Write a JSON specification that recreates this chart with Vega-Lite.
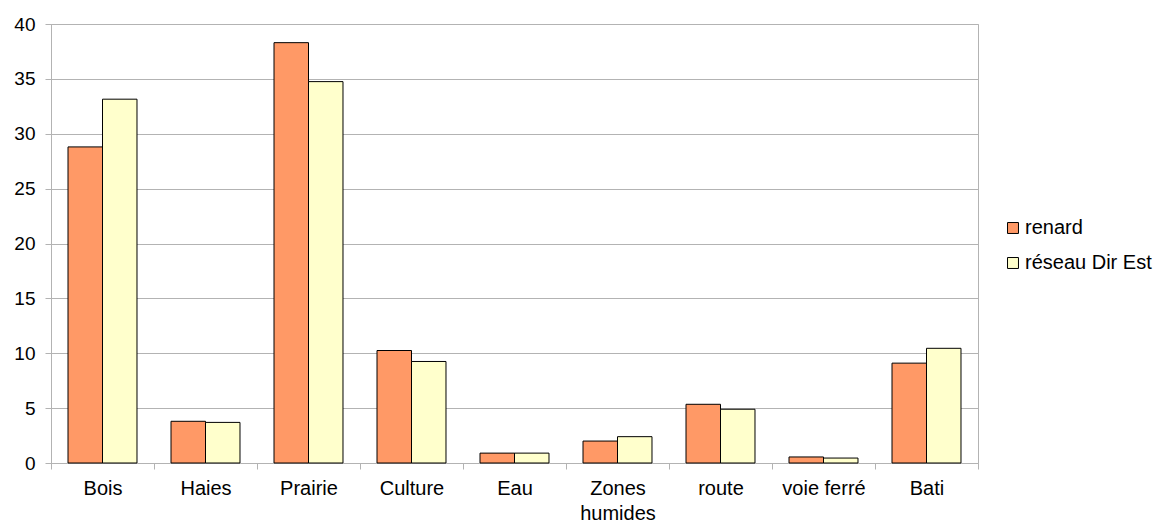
{
  "$schema": "https://vega.github.io/schema/vega-lite/v6.json",
  "width": 927,
  "height": 439,
  "autosize": "none",
  "padding": {"left": 51, "top": 24, "right": 185, "bottom": 66},
  "background": "white",
  "config": {
    "font": "Liberation Sans",
    "view": {"stroke": "#b3b3b3"}
  },
  "data": {
    "values": [
      {"cat": "Bois", "serie": "renard", "v": 28.8},
      {"cat": "Bois", "serie": "réseau Dir Est", "v": 33.15},
      {"cat": "Haies", "serie": "renard", "v": 3.8},
      {"cat": "Haies", "serie": "réseau Dir Est", "v": 3.7},
      {"cat": "Prairie", "serie": "renard", "v": 38.3},
      {"cat": "Prairie", "serie": "réseau Dir Est", "v": 34.75},
      {"cat": "Culture", "serie": "renard", "v": 10.25},
      {"cat": "Culture", "serie": "réseau Dir Est", "v": 9.25},
      {"cat": "Eau", "serie": "renard", "v": 0.9},
      {"cat": "Eau", "serie": "réseau Dir Est", "v": 0.9},
      {"cat": "Zones humides", "serie": "renard", "v": 2.0},
      {"cat": "Zones humides", "serie": "réseau Dir Est", "v": 2.4},
      {"cat": "route", "serie": "renard", "v": 5.35},
      {"cat": "route", "serie": "réseau Dir Est", "v": 4.9},
      {"cat": "voie ferré", "serie": "renard", "v": 0.55},
      {"cat": "voie ferré", "serie": "réseau Dir Est", "v": 0.45},
      {"cat": "Bati", "serie": "renard", "v": 9.1},
      {"cat": "Bati", "serie": "réseau Dir Est", "v": 10.45}
    ]
  },
  "mark": {"type": "bar", "stroke": "black", "strokeWidth": 1},
  "encoding": {
    "x": {
      "field": "cat",
      "type": "nominal",
      "sort": null,
      "scale": {"paddingInner": 0, "paddingOuter": 0},
      "axis": {
        "title": null,
        "labelAngle": 0,
        "labelFontSize": 20,
        "labelColor": "black",
        "labelPadding": 9,
        "labelLineHeight": 25,
        "labelExpr": "datum.value == 'Zones humides' ? ['Zones', 'humides'] : datum.value",
        "tickBand": "extent",
        "tickSize": 6,
        "tickColor": "#b3b3b3",
        "domainColor": "#b3b3b3",
        "grid": false
      }
    },
    "xOffset": {
      "field": "serie",
      "type": "nominal",
      "scale": {"paddingInner": 0, "paddingOuter": 0.493}
    },
    "y": {
      "field": "v",
      "type": "quantitative",
      "scale": {"domain": [0, 40]},
      "axis": {
        "title": null,
        "values": [0, 5, 10, 15, 20, 25, 30, 35, 40],
        "labelFontSize": 19,
        "labelColor": "black",
        "labelPadding": 10,
        "tickSize": 6,
        "tickColor": "#b3b3b3",
        "domainColor": "#b3b3b3",
        "gridColor": "#b3b3b3"
      }
    },
    "color": {
      "field": "serie",
      "type": "nominal",
      "scale": {"domain": ["renard", "réseau Dir Est"], "range": ["#ff9966", "#ffffcc"]},
      "legend": {
        "title": null,
        "orient": "none",
        "legendX": 952,
        "legendY": 194,
        "symbolType": "square",
        "symbolSize": 120,
        "symbolStrokeColor": "black",
        "symbolStrokeWidth": 1,
        "labelFontSize": 20,
        "labelColor": "black",
        "labelOffset": 2,
        "rowPadding": 15
      }
    }
  }
}
